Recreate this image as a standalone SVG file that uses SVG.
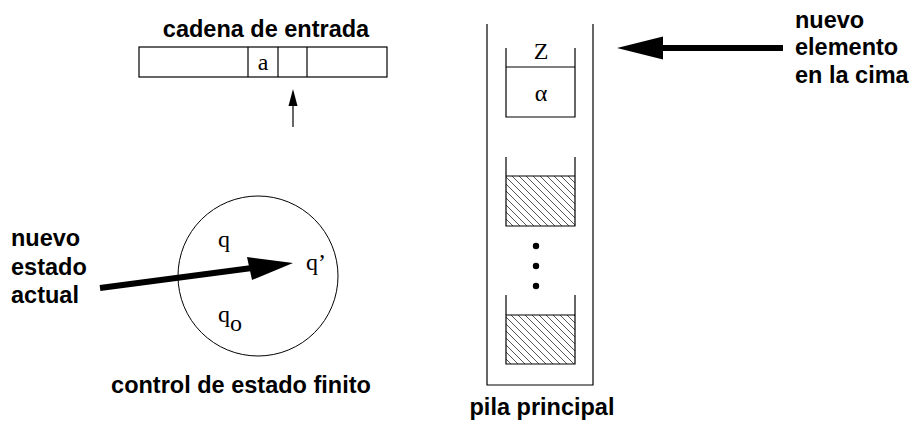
<svg xmlns="http://www.w3.org/2000/svg" width="913" height="432" viewBox="0 0 913 432">
<style>
.lbl{font-family:"Liberation Sans",Arial,sans-serif;font-weight:bold;font-size:23.5px;fill:#000}
.sym{font-family:"Liberation Serif","Times New Roman",serif;font-size:24px;fill:#000}
.ln{fill:none;stroke:#000;stroke-width:1.2}
.thin{fill:none;stroke:#000;stroke-width:1}
</style>
<defs>
<pattern id="hatch" patternUnits="userSpaceOnUse" width="7" height="7">
<path d="M-1,-1 L8,8 M-8,-1 L1,8 M6,-1 L15,8" stroke="#555" stroke-width="1"/>
</pattern>
</defs>
<rect width="913" height="432" fill="#fff"/>

<g id="tape">
<rect x="139" y="47" width="248" height="30" class="ln"/>
<line x1="248" y1="47" x2="248" y2="77" class="ln"/>
<line x1="278" y1="47" x2="278" y2="77" class="ln"/>
<line x1="307" y1="47" x2="307" y2="77" class="ln"/>
<text x="263" y="70" class="sym" text-anchor="middle">a</text>
<text x="266" y="37" class="lbl" text-anchor="middle">cadena de entrada</text>
</g>

<g id="control">
<circle cx="258" cy="276" r="80" class="thin"/>
<text x="224" y="247" class="sym" text-anchor="middle">q</text>
<text x="306" y="270" class="sym">q’</text>
<text x="218" y="322" class="sym">q<tspan dy="9">o</tspan></text>
<text x="241" y="393" class="lbl" text-anchor="middle">control de estado finito</text>
</g>

<g id="label-estado">
<text x="11" y="246" class="lbl">nuevo</text>
<text x="11" y="275" class="lbl">estado</text>
<text x="11" y="303" class="lbl">actual</text>
</g>

<g id="stack">
<polyline points="487,24 487,385 593,385 593,24" class="ln"/>
<polyline points="506,48 506,117 575,117 575,48" class="ln"/>
<line x1="506" y1="67" x2="575" y2="67" class="ln"/>
<text x="541" y="59" class="sym" text-anchor="middle">Z</text>
<text x="541" y="101" class="sym" text-anchor="middle">α</text>
<rect x="506" y="176" width="69" height="50" fill="url(#hatch)"/>
<polyline points="506,157 506,226 575,226 575,157" class="ln"/>
<line x1="506" y1="176" x2="575" y2="176" class="ln"/>
<circle cx="536" cy="246" r="3.2"/>
<circle cx="536" cy="266" r="3.2"/>
<circle cx="536" cy="286" r="3.2"/>
<rect x="506" y="315" width="69" height="49" fill="url(#hatch)"/>
<polyline points="506,295 506,364 575,364 575,295" class="ln"/>
<line x1="506" y1="315" x2="575" y2="315" class="ln"/>
<text x="542" y="415" class="lbl" text-anchor="middle">pila principal</text>
</g>

<g id="label-cima">
<text x="795" y="28" class="lbl">nuevo</text>
<text x="795" y="55" class="lbl">elemento</text>
<text x="795" y="83" class="lbl">en la cima</text>
</g>

<g id="connectors">
<line x1="293" y1="127" x2="293" y2="104" stroke="#000" stroke-width="1.2"/>
<polygon points="293,89 297.5,106 288.5,106" fill="#000"/>
<line x1="100" y1="288" x2="252" y2="268" stroke="#000" stroke-width="6"/>
<polygon points="293,263 252,280 247,257" fill="#000"/>
<line x1="783" y1="48" x2="660" y2="48" stroke="#000" stroke-width="6"/>
<polygon points="617,48 663,36.5 663,59.5" fill="#000"/>
</g>
</svg>
